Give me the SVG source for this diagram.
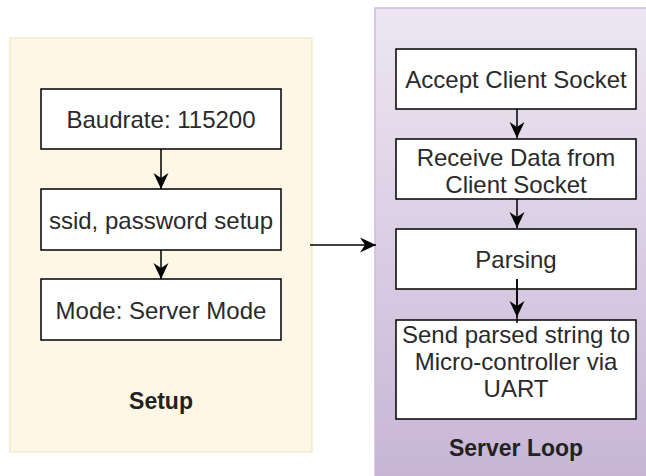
<svg xmlns="http://www.w3.org/2000/svg" width="646" height="476" viewBox="0 0 646 476">
<defs>
<linearGradient id="purpleGrad" x1="0" y1="0" x2="0" y2="1">
<stop offset="0" stop-color="#ede7f2"/>
<stop offset="1" stop-color="#c6b3d4"/>
</linearGradient>
<marker id="arrow" viewBox="0 0 16 16" refX="16" refY="8" markerWidth="16" markerHeight="16" markerUnits="userSpaceOnUse" orient="auto">
<path d="M0,0.5 L16,8 L0,15.5 L5,8 Z" fill="#000"/>
</marker>
</defs>
<style>
.box { fill: #ffffff; stroke: #000000; stroke-width: 1.5; }
.txt { font-family: "Liberation Sans", Arial, sans-serif; font-size: 24px; fill: #2a2a2a; text-anchor: middle; }
.title { font-family: "Liberation Sans", Arial, sans-serif; font-size: 23px; font-weight: bold; fill: #222222; text-anchor: middle; }
.conn { fill: none; stroke: #000000; stroke-width: 1.5; marker-end: url(#arrow); }
</style>
<rect width="646" height="476" fill="#ffffff"/>
<g id="setup">
<rect x="10" y="38" width="302" height="414" fill="#fef7e5" stroke="#f5ebcb" stroke-width="1.5"/>
<text class="title" x="161" y="409">Setup</text>
</g>
<g id="server-loop">
<rect x="375" y="8" width="290" height="490" fill="url(#purpleGrad)" stroke="#cdbadb" stroke-width="1.5"/>
<text class="title" x="516" y="456">Server Loop</text>
</g>
<g id="baudrate">
<rect class="box" x="41" y="89" width="240" height="60"/>
<text class="txt" x="161" y="128">Baudrate: 115200</text>
</g>
<g id="ssid">
<rect class="box" x="41" y="189" width="240" height="61"/>
<text class="txt" x="161" y="228.5">ssid, password setup</text>
</g>
<g id="mode">
<rect class="box" x="41" y="279" width="240" height="61"/>
<text class="txt" x="161" y="318.5">Mode: Server Mode</text>
</g>
<g id="accept">
<rect class="box" x="396" y="49" width="240" height="60"/>
<text class="txt" x="516" y="87.5">Accept Client Socket</text>
</g>
<g id="receive">
<rect class="box" x="396" y="139" width="240" height="60"/>
<text class="txt" x="516" y="165.5">Receive Data from</text>
<text class="txt" x="516" y="192.5">Client Socket</text>
</g>
<g id="parsing">
<rect class="box" x="396" y="229" width="240" height="60"/>
<text class="txt" x="516" y="268">Parsing</text>
</g>
<g id="send">
<rect class="box" x="396" y="320" width="240" height="99"/>
<text class="txt" x="516" y="343.3">Send parsed string to</text>
<text class="txt" x="516" y="370">Micro-controller via</text>
<text class="txt" x="516" y="396.7">UART</text>
</g>
<g id="connectors">
<line class="conn" x1="161" y1="149" x2="161" y2="189"/>
<line class="conn" x1="161" y1="250" x2="161" y2="279"/>
<line class="conn" x1="310" y1="245" x2="376" y2="245"/>
<line class="conn" x1="517" y1="109" x2="517" y2="138"/>
<line class="conn" x1="517" y1="199" x2="517" y2="228"/>
<line x1="517" y1="279" x2="517" y2="323" stroke="#000" stroke-width="1.5"/>
<line class="conn" x1="517" y1="279" x2="517" y2="317"/>
</g>
</svg>
